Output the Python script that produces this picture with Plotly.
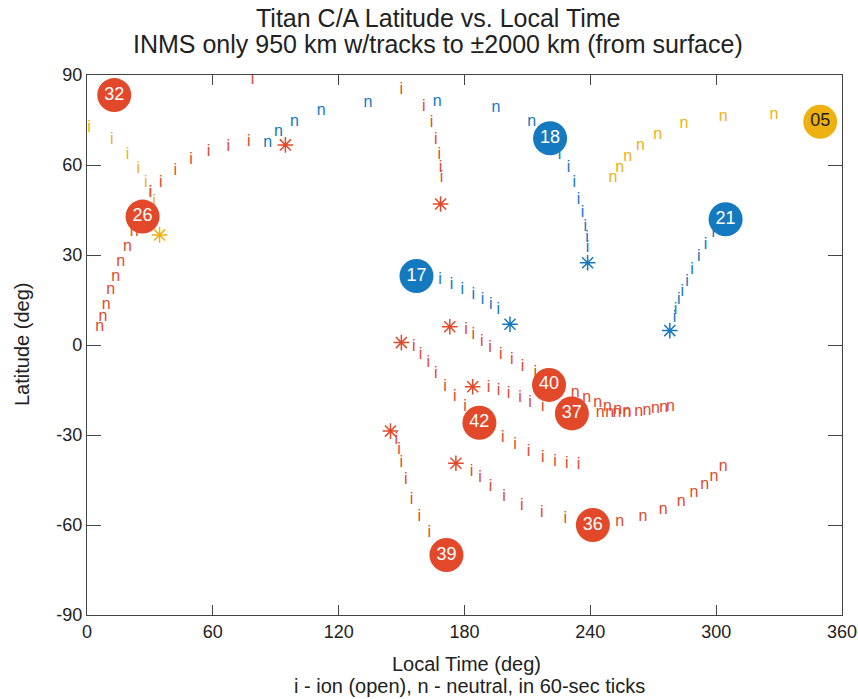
import plotly.graph_objects as go

RED = "#E2492B"
BLUE = "#1579C0"
GOLD = "#EEB111"

# ---- flyby data (local time deg, latitude deg) ----
T05_ion_lt = [1.0, 11.8, 19.3, 24.5, 28.0, 30.0, 32.0]
T05_ion_lat = [72.3, 68.3, 63.3, 58.6, 54.1, 50.6, 47.8]
T05_neu_lt = [250.8, 254.0, 257.8, 263.9, 272.1, 284.6, 303.4, 327.6]
T05_neu_lat = [55.6, 58.9, 62.6, 66.3, 70.0, 73.7, 75.9, 76.7]
T05_star = (34.6, 36.7)
T05_ca = (349.6, 74.4)

T26_neu_lt = [6.1, 7.6, 9.2, 11.3, 13.7, 16.1, 19.3, 22.5]
T26_neu_lat = [6.1, 9.4, 13.3, 18.3, 22.8, 27.8, 32.8, 37.8]
T26_ion_lt = [30.3, 35.2, 42.1, 49.6, 58.0, 67.4, 77.1]
T26_ion_lat = [50.8, 53.9, 58.1, 61.7, 64.4, 66.1, 67.8]
T26_star = (94.6, 66.7)
T26_ca = (26.5, 42.8)

T32_ion_lt = [78.9, 149.9, 160.6, 164.3, 166.3, 168.0, 168.6, 169.1]
T32_ion_lat = [88.5, 85.0, 79.4, 73.9, 68.3, 63.3, 58.9, 55.6]
T32_star = (168.6, 47.0)
T32_ca = (13.0, 83.3)

T18_neu_lt = [86.2, 91.3, 98.9, 111.7, 134.0, 167.0, 195.0, 212.1]
T18_neu_lat = [67.4, 71.1, 74.4, 78.1, 80.8, 81.1, 78.9, 74.4]
T18_ion_lt = [225.3, 229.6, 232.3, 234.4, 236.3, 237.6, 238.4, 238.7]
T18_ion_lat = [63.3, 58.9, 53.9, 48.3, 43.9, 39.4, 35.6, 32.2]
T18_star = (238.7, 27.4)
T18_ca = (220.8, 68.9)

T21_ion_lt = [298.6, 294.9, 291.7, 288.5, 286.1, 283.8, 282.2, 280.6, 280.1]
T21_ion_lat = [37.2, 33.3, 29.4, 25.0, 21.1, 17.8, 15.0, 11.7, 8.9]
T21_star = (277.9, 4.8)
T21_ca = (304.5, 41.9)

T17_ion_lt = [168.3, 173.8, 179.0, 184.2, 188.6, 192.5, 196.1]
T17_ion_lat = [21.7, 20.0, 18.3, 16.7, 15.0, 13.3, 11.7]
T17_star = (201.7, 6.9)
T17_ca = (157.1, 23.0)

T40_ion_lt = [180.7, 184.2, 188.2, 192.2, 197.3, 202.5, 207.7, 213.7]
T40_ion_lat = [5.0, 3.3, 1.1, -1.1, -3.3, -5.0, -7.2, -9.2]
T40_neu_lt = [232.8, 238.3, 243.5, 248.2, 253.0, 257.5]
T40_neu_lat = [-16.1, -17.8, -19.4, -20.6, -21.6, -22.3]
T40_star = (173.0, 6.1)
T40_ca = (220.3, -13.3)

T42_ion_lt = [155.8, 159.0, 162.7, 166.3, 170.7, 175.4, 180.2,
              198.2, 204.1, 210.5, 217.3, 223.2, 228.8, 234.4]
T42_ion_lat = [-0.6, -3.3, -6.1, -9.7, -14.1, -17.4, -20.6,
               -31.1, -33.3, -35.6, -37.8, -38.9, -39.7, -40.0]
T42_star = (149.9, 0.8)
T42_ca = (187.1, -25.9)

T37_ion_lt = [191.4, 196.2, 201.0, 206.5, 211.3, 217.3]
T37_ion_lat = [-14.4, -15.2, -16.3, -17.8, -19.4, -20.6]
T37_neu_lt = [244.7, 249.2, 252.7, 257.5, 263.1, 267.0, 271.0, 275.0, 278.2]
T37_neu_lat = [-22.6, -22.8, -22.7, -22.8, -22.2, -21.9, -21.4, -21.1, -20.6]
T37_star = (183.9, -13.9)
T37_ca = (231.2, -22.8)

T36_ion_lt = [183.4, 187.4, 192.4, 198.9, 207.3, 216.8, 228.0]
T36_ion_lat = [-42.2, -44.4, -47.4, -50.6, -53.7, -56.1, -58.1]
T36_neu_lt = [254.0, 265.1, 274.7, 283.3, 289.4, 294.5, 298.9, 303.4]
T36_neu_lat = [-58.9, -57.2, -55.0, -52.2, -49.2, -46.7, -43.9, -40.6]
T36_star = (175.9, -39.4)
T36_ca = (241.2, -60.0)

T39_ion_lt = [147.5, 148.8, 149.9, 152.0, 154.7, 158.4, 163.2]
T39_ion_lat = [-31.7, -35.0, -39.4, -45.0, -51.7, -57.2, -62.8]
T39_star = (144.7, -28.7)
T39_ca = (171.4, -70.0)

x_ticks = [0, 60, 120, 180, 240, 300, 360]
y_ticks = [-90, -60, -30, 0, 30, 60, 90]

FONT = "Liberation Sans, Arial, Helvetica, sans-serif"

fig = go.Figure()


def glyphs(lt, lat, ch, color):
    fig.add_trace(go.Scatter(
        x=lt, y=lat, mode="text", text=[ch] * len(lt),
        textposition="middle center",
        textfont=dict(family=FONT, size=16, color=color),
        hoverinfo="skip", showlegend=False, cliponaxis=True))


def star(pt, color):
    fig.add_trace(go.Scatter(
        x=[pt[0]], y=[pt[1]], mode="markers",
        marker=dict(symbol="asterisk-open", size=13, color=color,
                    line=dict(color=color, width=1.5)),
        hoverinfo="skip", showlegend=False))


tracks = [
    (T05_ion_lt, T05_ion_lat, "i", GOLD), (T05_neu_lt, T05_neu_lat, "n", GOLD),
    (T26_neu_lt, T26_neu_lat, "n", RED), (T26_ion_lt, T26_ion_lat, "i", RED),
    (T32_ion_lt, T32_ion_lat, "i", RED),
    (T18_neu_lt, T18_neu_lat, "n", BLUE), (T18_ion_lt, T18_ion_lat, "i", BLUE),
    (T21_ion_lt, T21_ion_lat, "i", BLUE),
    (T17_ion_lt, T17_ion_lat, "i", BLUE),
    (T40_ion_lt, T40_ion_lat, "i", RED), (T40_neu_lt, T40_neu_lat, "n", RED),
    (T42_ion_lt, T42_ion_lat, "i", RED),
    (T37_ion_lt, T37_ion_lat, "i", RED), (T37_neu_lt, T37_neu_lat, "n", RED),
    (T36_ion_lt, T36_ion_lat, "i", RED), (T36_neu_lt, T36_neu_lat, "n", RED),
    (T39_ion_lt, T39_ion_lat, "i", RED),
]
for lt, lat, ch, col in tracks:
    glyphs(lt, lat, ch, col)

stars = [(T05_star, GOLD), (T26_star, RED), (T32_star, RED), (T18_star, BLUE),
         (T21_star, BLUE), (T17_star, BLUE), (T40_star, RED), (T42_star, RED),
         (T37_star, RED), (T36_star, RED), (T39_star, RED)]
for pt, col in stars:
    star(pt, col)

cas = [(T05_ca, "05", GOLD, "#222222"), (T26_ca, "26", RED, "white"),
       (T32_ca, "32", RED, "white"), (T18_ca, "18", BLUE, "white"),
       (T21_ca, "21", BLUE, "white"), (T17_ca, "17", BLUE, "white"),
       (T40_ca, "40", RED, "white"), (T42_ca, "42", RED, "white"),
       (T37_ca, "37", RED, "white"), (T36_ca, "36", RED, "white"),
       (T39_ca, "39", RED, "white")]
for pt, lab, col, tcol in cas:
    fig.add_trace(go.Scatter(
        x=[pt[0]], y=[pt[1]], mode="markers+text", text=[lab],
        textposition="middle center",
        textfont=dict(family=FONT, size=18, color=tcol),
        marker=dict(size=34, color=col, line=dict(width=0)),
        hoverinfo="skip", showlegend=False, cliponaxis=False))

axis_common = dict(showline=True, linecolor="#444444", linewidth=1.3,
                   mirror="ticks", ticks="inside", tickcolor="#444444",
                   tickwidth=1.3, showgrid=False, zeroline=False,
                   automargin=False,
                   tickfont=dict(family=FONT, size=18, color="#222222"))

fig.update_layout(
    width=858, height=699, autosize=False,
    margin=dict(l=87, r=16, t=75, b=84, autoexpand=False),
    paper_bgcolor="white", plot_bgcolor="white",
    xaxis=dict(range=[0, 360], tickvals=x_ticks, ticktext=[str(v) for v in x_ticks],
               ticklen=10, **axis_common),
    yaxis=dict(range=[-90, 90], tickvals=y_ticks, ticktext=[str(v) for v in y_ticks],
               ticklen=14, **axis_common),
    showlegend=False,
)

ann_font = dict(family=FONT, color="#222222")
# (text, pixel centre x, pixel centre y, font size)
annotations = [
    ("Titan C/A Latitude vs. Local Time", 438, 18, 25),
    ("INMS only 950 km w/tracks to ±2000 km (from surface)", 438, 44, 25),
    ("Local Time (deg)", 466, 664, 20),
    ("i - ion (open), n - neutral, in 60-sec ticks", 470, 686, 20),
]
for text, px, py, size in annotations:
    fig.add_annotation(text=text, xref="paper", yref="paper",
                       x=(px - 87) / 755.0, y=(615 - py) / 540.0,
                       xanchor="center", yanchor="middle", showarrow=False,
                       font=dict(size=size, **ann_font))
fig.add_annotation(text="Latitude (deg)", xref="paper", yref="paper",
                   x=(22 - 87) / 755.0, y=0.5, textangle=-90,
                   xanchor="center", yanchor="middle", showarrow=False,
                   font=dict(size=20, **ann_font))

fig.write_html(
    "out.html",
    config={"displayModeBar": False},
    post_script="document.body.style.margin='0';"
                "document.body.style.overflow='hidden';",
)
